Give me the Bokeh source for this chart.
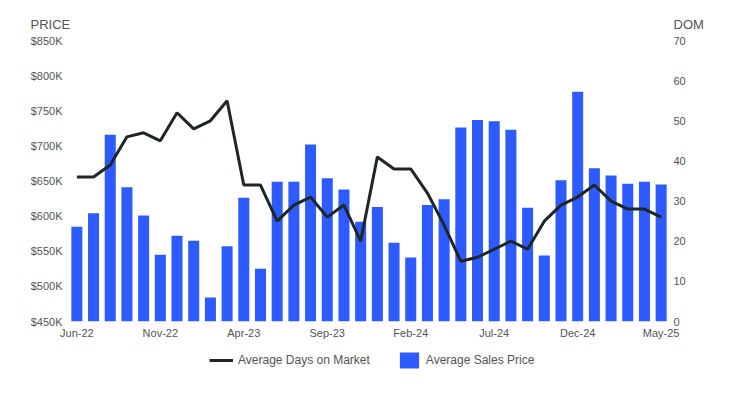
from bokeh.plotting import figure
from bokeh.models import (ColumnDataSource, Range1d, LinearAxis, FixedTicker,
                          Legend, LegendItem, Label)
from bokeh.layouts import column
from bokeh.embed import file_html
from bokeh.resources import INLINE

months = ["Jun-22", "Jul-22", "Aug-22", "Sep-22", "Oct-22", "Nov-22", "Dec-22",
          "Jan-23", "Feb-23", "Mar-23", "Apr-23", "May-23", "Jun-23", "Jul-23",
          "Aug-23", "Sep-23", "Oct-23", "Nov-23", "Dec-23", "Jan-24", "Feb-24",
          "Mar-24", "Apr-24", "May-24", "Jun-24", "Jul-24", "Aug-24", "Sep-24",
          "Oct-24", "Nov-24", "Dec-24", "Jan-25", "Feb-25", "Mar-25", "Apr-25",
          "May-25"]
avg_price = [585000, 604000, 716000, 641000, 601000, 545000, 572000,
             565000, 484000, 557000, 626000, 525000, 649000, 649000,
             702000, 654000, 638000, 592000, 613000, 562000, 541000,
             616000, 624000, 726000, 737000, 735000, 723000, 612000,
             544000, 651000, 777000, 668000, 658000, 646000, 649000,
             645000]
avg_dom = [36, 36, 39, 46, 47, 45, 52,
           48, 50, 55, 34, 34, 25, 29,
           31, 26, 29, 20, 41, 38, 38,
           32, 24, 15, 16, 18, 20, 18,
           25, 29, 31, 34, 30, 28, 28,
           26]
price_ticks = [450000, 500000, 550000, 600000, 650000, 700000, 750000, 800000, 850000]
price_tick_labels = ["$450K", "$500K", "$550K", "$600K", "$650K", "$700K", "$750K", "$800K", "$850K"]
dom_ticks = [0, 10, 20, 30, 40, 50, 60, 70]
x_tick_idx = [0, 5, 10, 15, 20, 25, 30, 35]
left_title = "PRICE"
right_title = "DOM"
series_names = ["Average Days on Market", "Average Sales Price"]

FONT = "Liberation Sans"
TXT = "#555555"
BAR = "#2D5BFF"
LINE = "#1E2626"
W = 721


def bare(fig):
    fig.outline_line_color = None
    fig.xgrid.visible = False
    fig.ygrid.visible = False
    fig.axis.visible = False
    if "frame_align" in fig.properties():
        fig.frame_align = False


src = ColumnDataSource(dict(x=list(range(len(months))), price=avg_price, dom=avg_dom))

# --- header strip with the two axis titles ---
p0 = figure(width=W, height=32, output_backend="svg", toolbar_location=None,
            x_range=Range1d(0, W), y_range=Range1d(0, 32),
            min_border_left=0, min_border_right=0, min_border_top=0, min_border_bottom=0)
bare(p0)
for txt, xx in [(left_title, 30), (right_title, 673)]:
    p0.add_layout(Label(x=xx, y=8, text=txt, text_font=FONT, text_font_size="13px",
                        text_color=TXT, text_align="left", text_baseline="middle"))

# --- main chart ---
p = figure(frame_width=601, frame_height=281, output_backend="svg", toolbar_location=None,
           x_range=Range1d(-0.5, len(months) - 0.5),
           y_range=Range1d(450000, 850000),
           min_border_left=68, min_border_right=52, min_border_top=8,
           min_border_bottom=22)
p.extra_y_ranges = {"dom": Range1d(0, 70)}
p.outline_line_color = None
p.xgrid.visible = False
p.ygrid.visible = False

bars = p.vbar(x="x", top="price", bottom=450000, width=0.66, source=src,
              fill_color=BAR, line_color=None)
line = p.line(x="x", y="dom", source=src, y_range_name="dom",
              line_color=LINE, line_width=3)


def style(ax):
    ax.axis_line_color = None
    ax.major_tick_line_color = None
    ax.minor_tick_line_color = None
    ax.major_tick_out = 0
    ax.major_tick_in = 0
    ax.minor_tick_out = 0
    ax.major_label_text_font = FONT
    ax.major_label_text_font_size = "11px"
    ax.major_label_text_color = TXT


xa = p.xaxis[0]
style(xa)
xa.ticker = FixedTicker(ticks=x_tick_idx)
xa.major_label_overrides = {i: months[i] for i in x_tick_idx}
xa.major_label_standoff = 5

ya = p.yaxis[0]
style(ya)
ya.ticker = FixedTicker(ticks=price_ticks)
ya.major_label_overrides = dict(zip(price_ticks, price_tick_labels))
ya.major_label_standoff = 6

ra = LinearAxis(y_range_name="dom", ticker=FixedTicker(ticks=dom_ticks))
style(ra)
ra.major_label_standoff = 4
p.add_layout(ra, "right")

# --- legend strip (same series, ranges chosen so that only the legend shows) ---
p2 = figure(width=W, height=40, output_backend="svg", toolbar_location=None,
            x_range=Range1d(-1000, -999), y_range=Range1d(-1000, -999),
            min_border_left=0, min_border_right=0, min_border_top=0, min_border_bottom=0)
bare(p2)
lg_line = p2.line(x="x", y="dom", source=src, line_color=LINE, line_width=3)
lg_bar = p2.vbar(x="x", top="price", bottom=450000, width=0.66, source=src,
                 fill_color=BAR, line_color=None)
legend = Legend(items=[LegendItem(label=series_names[0], renderers=[lg_line]),
                       LegendItem(label=series_names[1], renderers=[lg_bar])],
                orientation="horizontal", location=(209, 13),
                border_line_color=None, background_fill_alpha=0,
                label_text_font=FONT, label_text_font_size="12px",
                label_text_color=TXT, glyph_width=24, glyph_height=20,
                spacing=27, label_standoff=5, padding=0, margin=0)
p2.add_layout(legend, "center")

layout = column(p0, p, p2, spacing=0)
open("out.html", "w").write(file_html(layout, INLINE))
